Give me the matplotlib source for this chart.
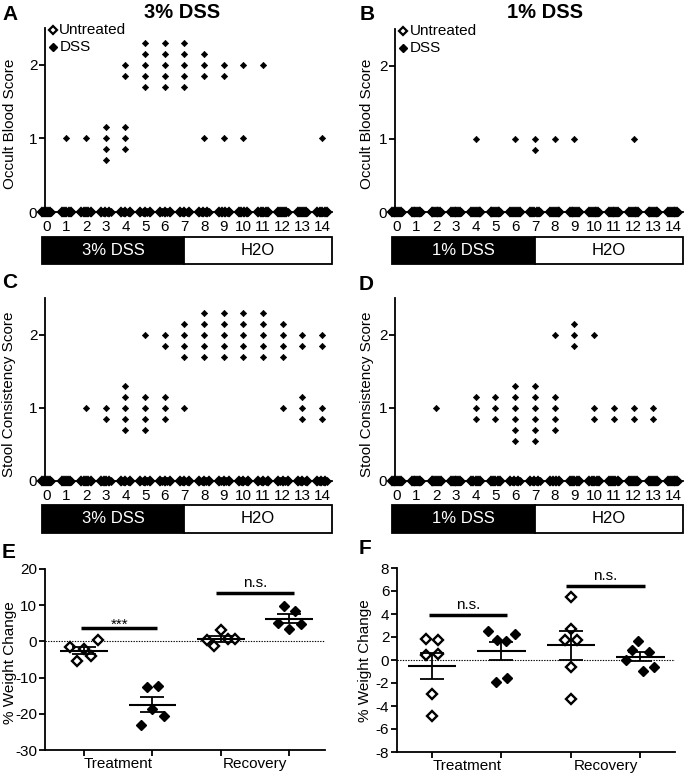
import numpy as np
import matplotlib.pyplot as plt
from matplotlib.patches import Rectangle
from matplotlib.transforms import blended_transform_factory

plt.rcParams['font.family'] = ['Liberation Sans', 'DejaVu Sans']
plt.rcParams['font.size'] = 11
plt.rcParams['axes.unicode_minus'] = False

W, H = 685, 777

days = np.arange(15)

# number of DSS mice with score 2 / score 1 on each day (rest score 0)
a_n = 5
a_score2 = [0, 0, 0, 0, 2, 5, 5, 5, 3, 2, 1, 1, 0, 0, 0]
a_score1 = [0, 1, 1, 4, 3, 0, 0, 0, 1, 1, 1, 0, 0, 0, 1]
b_n = 6
b_score2 = [0, 0, 0, 0, 0, 0, 0, 0, 0, 0, 0, 0, 0, 0, 0]
b_score1 = [0, 0, 0, 0, 1, 0, 1, 2, 1, 1, 0, 0, 1, 0, 0]
c_score2 = [0, 0, 0, 0, 0, 1, 2, 4, 5, 5, 5, 5, 4, 2, 2]
c_score1 = [0, 0, 1, 2, 5, 4, 3, 1, 0, 0, 0, 0, 1, 3, 2]
d_score2 = [0, 0, 0, 0, 0, 0, 0, 0, 1, 3, 1, 0, 0, 0, 0]
d_score1 = [0, 0, 1, 0, 3, 3, 6, 6, 4, 0, 2, 2, 2, 2, 0]

# % weight change
e_treat_untr = [-1.6, -5.3, -2.2, -3.9, 0.3]
e_treat_dss = [-12.7, -12.4, -23.0, -18.7, -20.7]
e_rec_untr = [0.5, -1.4, 3.1, 0.6, 0.6]
e_rec_dss = [9.7, 8.4, 5.1, 3.5, 4.9]
f_treat_untr = [1.83, 1.74, 0.46, 0.52, -2.96, -4.84]
f_treat_dss = [2.49, 1.77, 1.62, 2.26, -1.94, -1.57]
f_rec_untr = [5.48, 2.72, 1.71, 1.71, -0.61, -3.42]
f_rec_dss = [0.0, 0.90, 1.68, -0.93, 0.67, -0.64]

group_labels = ['Treatment', 'Recovery']

stack = np.array([0, -0.15, 0.15, -0.3, 0.3, -0.45])

fig = plt.figure(figsize=(W / 100, H / 100), dpi=100)


def px_axes(l, t, r, b):
    return fig.add_axes([l / W, 1 - b / H, (r - l) / W, (b - t) / H])


def ftext(x, y, s, **kw):
    fig.text(x / W, 1 - y / H, s, ha='center', va='center', **kw)


def style(ax):
    for s in ['top', 'right']:
        ax.spines[s].set_visible(False)
    for s in ['left', 'bottom']:
        ax.spines[s].set_linewidth(1.3)
    ax.tick_params(labelsize=11, width=1.3, length=4, direction='out', pad=1.5)


def time_panel(box, score2, score1, n, drug, bar_y, legend=False):
    ax = px_axes(*box)
    style(ax)
    for d in days:
        nz = 2 * n - score2[d] - score1[d]
        xs = d + np.linspace(-0.24, 0.24, nz)
        ax.plot(xs[::2], np.zeros(len(xs[::2])), 'D', ms=3.8, mfc='white',
                mec='k', mew=1.6, clip_on=False, zorder=3)
        ax.plot(xs, np.zeros(len(xs)), 'D', ms=3.6, mfc='k',
                mec='k', mew=0.6, clip_on=False, zorder=4)
        for s, k in [(2, score2[d]), (1, score1[d])]:
            if k:
                ax.plot(np.full(k, d), s + stack[:k], 'D', ms=3.2, color='k',
                        mew=0.5, clip_on=False, zorder=4)
    ax.set_xlim(-0.09, 14.5)
    ax.set_ylim(0, 2.5)
    ax.set_xticks(days)
    ax.set_yticks([0, 1, 2])
    ax.tick_params(axis='x', length=0, pad=6)
    tr = blended_transform_factory(ax.transData, ax.transAxes)
    y0, y1 = bar_y
    ax.add_patch(Rectangle((-0.23, y1), 7.23, y0 - y1, transform=tr,
                           facecolor='k', edgecolor='k', lw=1.3, clip_on=False))
    ax.add_patch(Rectangle((7, y1), 7.5, y0 - y1, transform=tr,
                           facecolor='white', edgecolor='k', lw=1.3, clip_on=False))
    ax.text(3.38, (y0 + y1) / 2, drug, transform=tr, color='white',
            ha='center', va='center', fontsize=12)
    ax.text(10.75, (y0 + y1) / 2, 'H2O', transform=tr, color='k',
            ha='center', va='center', fontsize=12)
    if legend:
        ax.plot([0.028], [0.99], 'D', ms=4, mfc='white', mec='k', mew=1.6,
                transform=ax.transAxes, clip_on=False)
        ax.plot([0.028], [0.895], 'D', ms=4, color='k',
                transform=ax.transAxes, clip_on=False)
        ax.text(0.05, 0.99, 'Untreated', transform=ax.transAxes,
                ha='left', va='center', fontsize=11)
        ax.text(0.05, 0.895, 'DSS', transform=ax.transAxes,
                ha='left', va='center', fontsize=11)
    return ax


def spread(vals, h, cap=0.2):
    vals = np.asarray(vals, float)
    order = np.argsort(vals, kind='stable')
    groups, cur = [], [order[0]]
    for i in order[1:]:
        if vals[i] - vals[cur[-1]] < h:
            cur.append(i)
        else:
            groups.append(cur)
            cur = [i]
    groups.append(cur)
    off = np.zeros(len(vals))
    for g in groups:
        g = sorted(g)
        k = len(g)
        if k > 1:
            half = min(cap, 0.085 * (k - 1))
            off[g] = np.linspace(-half, half, k)
    return off


def weight_panel(box, groups, ylim, yticks, xlim, h, bars):
    ax = px_axes(*box)
    style(ax)
    ax.axhline(0, ls=(0, (1.2, 1.2)), lw=0.8, color='k', zorder=1)
    for i, vals in enumerate(groups):
        x = i + 1
        xs = x + spread(vals, h)
        if i % 2 == 0:
            ax.plot(xs, vals, 'D', ms=5.2, mfc='white', mec='k', mew=1.7,
                    clip_on=False, zorder=3)
        else:
            ax.plot(xs, vals, 'D', ms=5.4, color='k', clip_on=False, zorder=3)
        m = np.mean(vals)
        sem = np.std(vals, ddof=1) / np.sqrt(len(vals))
        ax.hlines(m, x - 0.35, x + 0.35, color='k', lw=1.5, zorder=4)
        ax.errorbar(x, m, yerr=sem, fmt='none', ecolor='k', elinewidth=1.3,
                    capsize=8.5, capthick=1.3, zorder=4)
    for xa, xb, yb, lab, dy in bars:
        ax.plot([xa, xb], [yb, yb], color='k', lw=2.5, solid_capstyle='butt')
        ax.annotate(lab, ((xa + xb) / 2, yb), xytext=(0, dy),
                    textcoords='offset points', ha='center', va='bottom',
                    fontsize=11)
    ax.set_ylim(*ylim)
    ax.set_yticks(yticks)
    ax.set_xlim(*xlim)
    ax.set_xticks([1, 2, 3, 4])
    ax.set_xticklabels([])
    ax.set_xticks([1.5, 3.5], group_labels, minor=True)
    ax.tick_params(axis='x', which='minor', length=0, pad=5, labelsize=11)
    return ax


time_panel((45, 28, 332, 212), a_score2, a_score1, a_n, '3% DSS',
           (-0.136, -0.283), legend=True)
time_panel((395, 29, 683, 212), b_score2, b_score1, b_n, '1% DSS',
           (-0.136, -0.283), legend=True)
time_panel((45, 298, 332, 481), c_score2, c_score1, a_n, '3% DSS',
           (-0.131, -0.284))
time_panel((395, 298, 683, 481), d_score2, d_score1, b_n, '1% DSS',
           (-0.131, -0.284))

weight_panel((45, 569, 325, 750),
             [e_treat_untr, e_treat_dss, e_rec_untr, e_rec_dss],
             (-30, 20), np.arange(-30, 21, 10), (0.43, 4.52), 2.77,
             [(0.96, 2.07, 3.8, '***', -3), (2.93, 4.06, 13.4, 'n.s.', 2)])
weight_panel((397, 568, 675, 752),
             [f_treat_untr, f_treat_dss, f_rec_untr, f_rec_dss],
             (-8, 8), np.arange(-8, 9, 2), (0.495, 4.5), 0.87,
             [(0.96, 2.08, 3.94, 'n.s.', 2), (2.93, 4.07, 6.46, 'n.s.', 2)])

for x, y, s in [(10, 14, 'A'), (367, 14, 'B'), (10, 283, 'C'),
                (366, 284, 'D'), (9, 552, 'E'), (365, 548, 'F')]:
    ftext(x, y, s, fontsize=15, fontweight='bold')
ftext(182, 13, '3% DSS', fontsize=14.5, fontweight='bold')
ftext(545, 13, '1% DSS', fontsize=14.5, fontweight='bold')

for x, y, s in [(10, 124, 'Occult Blood Score'), (367, 124, 'Occult Blood Score'),
                (9, 394, 'Stool Consistency Score'), (367, 394, 'Stool Consistency Score'),
                (10, 663, '% Weight Change'), (365, 661, '% Weight Change')]:
    ftext(x, y, s, fontsize=11, rotation=90)

fig.savefig('out.png', dpi=100)
